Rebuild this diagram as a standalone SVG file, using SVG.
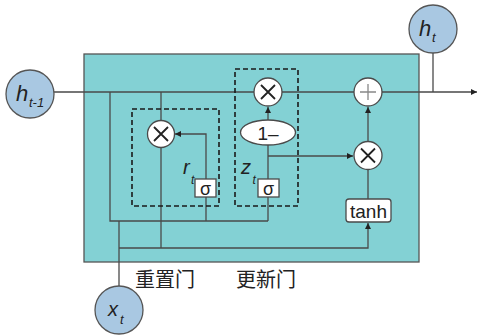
<svg xmlns="http://www.w3.org/2000/svg" width="479" height="336" viewBox="0 0 479 336">
<defs>
<style>
.ln{stroke:#4a4a4a;stroke-width:1.3;fill:none}
.dash{stroke:#1a1a1a;stroke-width:1.6;fill:none;stroke-dasharray:5,3}
.op{fill:#fff;stroke:#4a4a4a;stroke-width:1.3}
.io{fill:#a9c8e2;stroke:#555;stroke-width:1.3}
.sym{stroke:#222;stroke-width:1.8;fill:none}
.t{font-family:"Liberation Sans",Arial,sans-serif;fill:#222}
.cn{font-family:"Noto Sans CJK SC",sans-serif;font-size:20px;fill:#222}
</style>
<marker id="ah" viewBox="0 0 10 10" refX="10" refY="5" markerWidth="6" markerHeight="6" orient="auto" markerUnits="userSpaceOnUse"><path d="M0,0L10,5L0,10z" fill="#222"/></marker>
</defs>
<rect id="cell" x="84" y="54" width="335" height="208" fill="#83d1d4" stroke="#555" stroke-width="1.3"/>
<g id="connectors">
<path class="ln" d="M54,92H254M282,92H354M382,92H477" marker-end="url(#ah)"/>
<path class="ln" d="M433,53V92"/>
<path class="ln" d="M110,92V221H268"/>
<path class="ln" d="M119,221V286"/>
<path class="ln" d="M119,248H368V223" marker-end="url(#ah)"/>
<path class="ln" d="M161,92V120"/>
<path class="ln" d="M161,148V248"/>
<path class="ln" d="M206,221V134H175" marker-end="url(#ah)"/>
<path class="ln" d="M268,221V145"/>
<path class="ln" d="M268,120V107" marker-end="url(#ah)"/>
<path class="ln" d="M268,156H353" marker-end="url(#ah)"/>
<path class="ln" d="M368,199V170"/>
<path class="ln" d="M368,141V107" marker-end="url(#ah)"/>
</g>
<g id="reset-gate">
<rect class="dash" x="132" y="109" width="87" height="97"/>
<text class="t" x="183" y="174" font-size="20" font-style="italic">r</text>
<text class="t" x="191" y="184" font-size="12" font-style="italic">t</text>
</g>
<g id="update-gate">
<rect class="dash" x="235" y="69" width="63" height="137"/>
<text class="t" x="241" y="174" font-size="20" font-style="italic">z</text>
<text class="t" x="252.5" y="184" font-size="12" font-style="italic">t</text>
</g>
<g id="reset-mul">
<circle class="op" cx="161" cy="134" r="13.5"/>
<path class="sym" d="M154,127L168,141M168,127L154,141"/>
</g>
<g id="reset-sigma">
<rect class="op" x="195" y="179" width="21" height="18"/>
<text class="t" x="205.5" y="195" font-size="18" text-anchor="middle">σ</text>
</g>
<g id="update-sigma">
<rect class="op" x="258" y="179" width="21" height="18"/>
<text class="t" x="268.5" y="195" font-size="18" text-anchor="middle">σ</text>
</g>
<g id="one-minus">
<ellipse class="op" cx="268" cy="132.5" rx="27.5" ry="12.5"/>
<text class="t" x="268" y="139.5" font-size="19" text-anchor="middle">1–</text>
</g>
<g id="update-mul">
<circle class="op" cx="268" cy="92" r="14"/>
<path class="sym" d="M261,85L275,99M275,85L261,99"/>
</g>
<g id="cand-mul">
<circle class="op" cx="368" cy="155.5" r="14"/>
<path class="sym" d="M361,148.5L375,162.5M375,148.5L361,162.5"/>
</g>
<g id="plus">
<circle class="op" cx="368" cy="92" r="14"/>
<path d="M368,84V100M360,92H376" stroke="#888" stroke-width="1.3"/>
</g>
<g id="tanh">
<rect class="op" x="346" y="199" width="45" height="23" rx="3"/>
<text class="t" x="368.5" y="217.5" font-size="19" text-anchor="middle">tanh</text>
</g>
<g id="h-prev">
<circle class="io" cx="30" cy="94" r="24"/>
<text class="t" x="16" y="101" font-size="22" font-style="italic">h</text>
<text class="t" x="29" y="107" font-size="13" font-style="italic">t-1</text>
</g>
<g id="h-t">
<circle class="io" cx="433" cy="29" r="24"/>
<text class="t" x="419" y="36" font-size="22" font-style="italic">h</text>
<text class="t" x="432" y="42" font-size="13" font-style="italic">t</text>
</g>
<g id="x-t">
<circle class="io" cx="119" cy="310" r="24"/>
<text class="t" x="108" y="316" font-size="20" font-style="italic">x</text>
<text class="t" x="120" y="324" font-size="13" font-style="italic">t</text>
</g>
<text class="cn" x="135" y="287">重置门</text>
<text class="cn" x="236" y="287">更新门</text>
</svg>
